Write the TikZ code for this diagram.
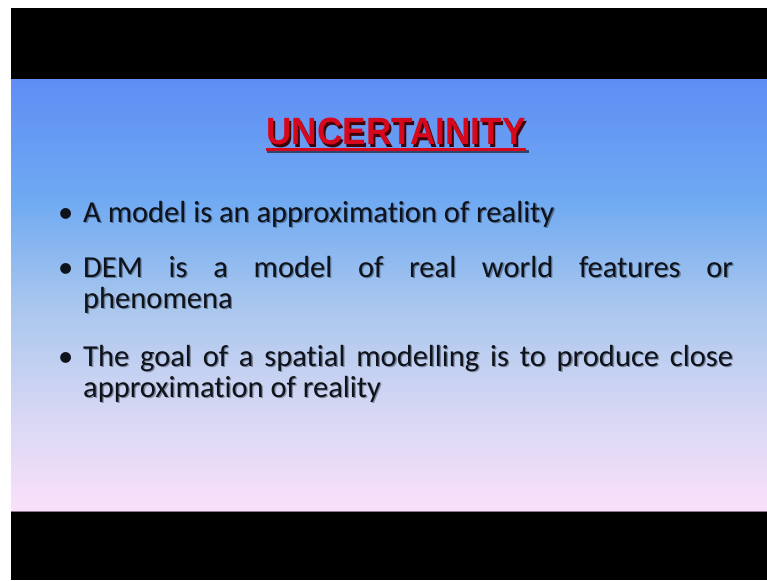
\documentclass[tikz,border=0pt]{standalone}
\usepackage{fontspec}
\setmainfont{Carlito}[Ligatures=NoCommon]
\newfontfamily\titlefont{Liberation Sans}
\definecolor{gA}{RGB}{94,142,244}
\definecolor{gB}{RGB}{112,170,242}
\definecolor{gC}{RGB}{168,198,238}
\definecolor{gD}{RGB}{216,216,244}
\definecolor{gE}{RGB}{250,224,250}
\definecolor{titlered}{RGB}{214,8,30}
\definecolor{txt}{RGB}{14,18,26}
\pgfdeclareverticalshading{slidebg}{100bp}{color(0bp)=(gE); color(25bp)=(gE); color(36bp)=(gD); color(49bp)=(gC); color(61bp)=(gB); color(75bp)=(gA); color(100bp)=(gA)}
\tikzset{
  bodytext/.style={anchor=base west, inner sep=0pt, text=txt, font=\fontsize{30.5}{34}\selectfont},
  bodyshadow/.style={anchor=base west, inner sep=0pt, text=black, opacity=0.35, font=\fontsize{30.5}{34}\selectfont},
  bulletmark/.style={anchor=base west, inner sep=0pt, text=txt, font=\fontsize{30.5}{34}\selectfont},
  titletext/.style={anchor=base, inner sep=0pt, text=titlered, font=\titlefont\bfseries\fontsize{38}{40}\selectfont}
}
\newcommand{\bodyline}[3]{%
  \node[bodyshadow] at (#1+1.3,#2+1.3) {#3};
  \node[bodytext] (#1-#2) at (#1,#2) {#3};}
\newcommand{\titleword}{\scalebox{0.925}[1]{UNCERTAINITY}}
\begin{document}
\begin{tikzpicture}[x=1pt,y=-1pt]
\useasboundingbox (0,0) rectangle (767,580);
\fill[white] (0,0) rectangle (767,580);
\fill[black] (11,8) rectangle (767,580);
\shade[shading=slidebg] (11,80) rectangle (767,511);
\draw[line width=1pt, color={rgb,255:red,140;green,120;blue,140}] (11,511.5) -- (767,511.5);
% title (with its shadow in the same node)
\draw[line width=3pt, black, opacity=0.55] (267,152) -- (529,152);
\node[titletext] (title) at (396,145) {\makebox[0pt][l]{\hspace{2pt}\raisebox{-2pt}{\color{black!70!titlered}\titleword}}\titleword};
\draw[line width=3pt, titlered] (title.base west |- 0,150) -- (title.base east |- 0,150);
% bullets
\foreach \yy in {222,277,366} {
  \node[bulletmark] at (58,\yy) {•};
}
\bodyline{83}{222}{A model is an approximation of reality}
\bodyline{83}{277}{\makebox[650pt][s]{DEM is a model of real world features or}}
\bodyline{83}{308}{phenomena}
\bodyline{83}{366}{\makebox[650pt][s]{The goal of a spatial modelling is to produce close}}
\bodyline{83}{397}{approximation of reality}
\end{tikzpicture}
\end{document}
